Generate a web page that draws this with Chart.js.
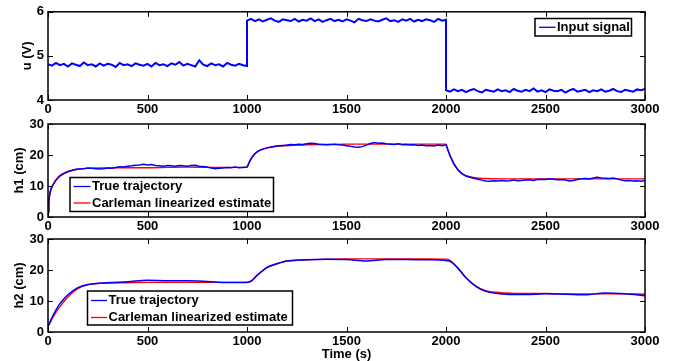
<!DOCTYPE html>
<html>
<head>
<meta charset="utf-8">
<script src="https://cdn.jsdelivr.net/npm/chart.js@4"></script>
<style>
  body { margin: 0; background: #fff; }
  #wrap { position: relative; width: 682px; height: 361px; }
  canvas { position: absolute; left: 0; top: 0; }
</style>
</head>
<body>
<div id="wrap">
  <canvas id="c1" width="682" height="361"></canvas>
  <canvas id="c2" width="682" height="361"></canvas>
  <canvas id="c3" width="682" height="361"></canvas>
</div>
<script>
'use strict';

// input signal, sampled every 20 s in three segments
const uStep = 20;
const uSeg1 = [4.81,4.78,4.84,4.79,4.82,4.76,4.83,4.80,4.77,4.85,
  4.79,4.81,4.76,4.83,4.78,4.82,4.80,4.75,4.84,4.79,
  4.81,4.77,4.83,4.80,4.78,4.82,4.76,4.84,4.79,4.81,
  4.77,4.83,4.80,4.86,4.78,4.82,4.79,4.76,4.90,4.80,
  4.77,4.83,4.79,4.81,4.76,4.84,4.80,4.78,4.82,4.79,4.77];
const uSeg2 = [5.80,5.84,5.79,5.83,5.78,5.82,5.85,5.80,5.77,5.83,
  5.81,5.79,5.84,5.78,5.82,5.80,5.85,5.79,5.83,5.77,
  5.81,5.84,5.79,5.82,5.78,5.83,5.80,5.76,5.84,5.81,
  5.79,5.83,5.80,5.78,5.82,5.85,5.79,5.81,5.77,5.83,
  5.80,5.84,5.78,5.82,5.79,5.83,5.81,5.77,5.84,5.80,5.82];
const uSeg3 = [4.22,4.19,4.24,4.20,4.23,4.18,4.22,4.25,4.20,4.17,
  4.23,4.21,4.19,4.24,4.20,4.22,4.18,4.25,4.21,4.19,
  4.23,4.20,4.26,4.19,4.22,4.18,4.24,4.21,4.20,4.23,
  4.17,4.22,4.25,4.19,4.21,4.23,4.18,4.22,4.20,4.24,
  4.19,4.21,4.25,4.20,4.18,4.23,4.21,4.19,4.24,4.22,4.25];

// estimate curves and h2 true trajectory
const estTime = [0,5,10,25,50,75,100,150,200,
  300,400,500,600,700,800,900,1000,
  1010,1025,1050,1075,1100,1150,1200,
  1300,1400,1500,1600,1700,1800,1900,2000,
  2010,2025,2050,2075,2100,2150,2200,
  2300,2400,2500,2600,2700,2800,2900,3000];
const h1Est = [1.5,5.5,7.5,10.3,12.8,14.0,14.7,15.4,15.7,
  15.8,15.9,15.9,16.0,16.1,16.0,16.0,16.0,
  17.4,19.2,21.0,21.8,22.3,22.8,23.0,
  23.3,23.4,23.5,23.5,23.5,23.5,23.5,23.5,
  21.5,19.2,16.2,14.3,13.3,12.6,12.4,
  12.3,12.3,12.3,12.3,12.3,12.3,12.3,12.3];
const h2Est = [2.0,2.4,3.0,4.8,7.3,9.4,11.3,14.0,15.2,
  15.8,15.9,16.0,16.0,16.0,16.0,16.0,16.1,
  16.2,16.7,18.3,19.6,20.8,22.0,22.9,
  23.3,23.5,23.6,23.6,23.6,23.6,23.6,23.5,
  23.4,22.9,21.4,19.5,17.6,14.8,13.3,
  12.6,12.4,12.4,12.3,12.3,12.3,12.3,12.2];
const h2True = [1.8,2.4,3.2,5.3,8.2,10.3,12.0,14.3,15.3,
  15.9,16.2,16.7,16.5,16.5,16.3,16.0,16.0,
  16.1,16.6,18.2,19.6,20.8,22.0,22.9,
  23.3,23.5,23.4,22.9,23.4,23.4,23.3,23.1,
  23.0,22.6,21.2,19.4,17.5,14.7,13.1,
  12.2,12.1,12.3,12.2,12.0,12.6,12.3,11.7];

// h1 true trajectory: 0,5,10,15 then every 20 s
const h1TrueTime = [0, 5, 10, 15];
for (let t = 20; t <= 3000; t += 20) h1TrueTime.push(t);
const h1True = [1.6,5.8,8.0,9.2,
  9.9,11.9,13.2,14.0,14.6,15.0,15.4,15.5,15.6,15.8,
  15.7,15.6,15.5,15.6,15.8,15.7,16.0,16.2,16.1,16.4,
  16.5,16.7,16.8,17.0,16.8,16.9,16.6,16.5,16.4,16.6,
  16.5,16.4,16.6,16.5,16.4,16.6,16.7,16.4,16.3,16.1,
  15.8,15.6,15.7,15.8,16.0,15.9,16.1,15.9,16.0,16.1,
  18.8,20.5,21.4,21.9,22.3,22.5,22.8,23.0,23.1,23.2,
  23.4,23.3,23.5,23.4,23.6,23.8,23.7,23.5,23.4,23.3,
  23.4,23.5,23.3,23.2,23.0,22.8,22.6,22.5,22.7,23.2,
  23.7,24.0,23.8,23.9,23.6,23.5,23.4,23.6,23.3,23.4,
  23.2,23.3,23.1,23.2,23.0,23.1,22.9,23.2,23.0,23.3,
  19.8,17.0,15.2,14.0,13.2,12.8,12.5,12.2,11.9,11.6,
  11.5,11.7,11.6,11.8,11.6,11.7,11.9,11.7,11.8,11.9,
  12.0,11.8,12.1,12.2,12.1,12.3,12.2,12.0,12.1,11.9,
  11.6,11.8,12.1,12.3,12.4,12.3,12.6,12.8,12.6,12.5,
  12.4,12.6,12.3,11.9,11.7,11.8,11.6,11.7,11.5,11.8];

const xTicks = [0, 3000, 500];
const FONT = '"Liberation Sans", Arial, sans-serif';

Chart.defaults.font.family = FONT;
Chart.defaults.font.size = 13;
Chart.defaults.font.weight = 'bold';
Chart.defaults.color = '#000';
Chart.defaults.animation = false;

function pts(xs, ys) {
  return ys.map((v, i) => ({x: xs[i], y: v}));
}
function segment(start, vals) {
  return vals.map((v, i) => ({x: start + i * uStep, y: v}));
}
const uData = segment(0, uSeg1).concat(segment(1000, uSeg2), segment(2000, uSeg3));

// black box with inward ticks on all four sides
const framePlugin = {
  id: 'frame',
  afterDatasetsDraw(chart) {
    const {ctx, chartArea: a, scales} = chart;
    ctx.save();
    ctx.strokeStyle = '#000';
    ctx.lineWidth = 1;
    ctx.beginPath();
    scales.x.ticks.forEach(t => {
      const px = Math.round(scales.x.getPixelForValue(t.value)) + 0.5;
      ctx.moveTo(px, a.bottom); ctx.lineTo(px, a.bottom - 5);
      ctx.moveTo(px, a.top); ctx.lineTo(px, a.top + 5);
    });
    scales.y.ticks.forEach(t => {
      const py = Math.round(scales.y.getPixelForValue(t.value)) + 0.5;
      ctx.moveTo(a.left, py); ctx.lineTo(a.left + 5, py);
      ctx.moveTo(a.right, py); ctx.lineTo(a.right - 5, py);
    });
    ctx.stroke();
    ctx.lineWidth = 1.5;
    ctx.strokeRect(a.left, a.top, a.right - a.left, a.bottom - a.top);
    ctx.restore();
  }
};

// matlab style legend box
const boxLegend = {
  id: 'boxLegend',
  afterDraw(chart, args, opts) {
    const ctx = chart.ctx;
    const b = opts.box;
    ctx.save();
    ctx.fillStyle = '#fff';
    ctx.fillRect(b[0], b[1], b[2], b[3]);
    ctx.strokeStyle = '#000';
    ctx.lineWidth = 1.5;
    ctx.strokeRect(b[0], b[1], b[2], b[3]);
    ctx.font = 'bold 13px ' + FONT;
    ctx.textBaseline = 'middle';
    ctx.textAlign = 'left';
    opts.rows.forEach(r => {
      ctx.strokeStyle = r.color;
      ctx.lineWidth = 1.3;
      ctx.beginPath();
      ctx.moveTo(opts.line[0], r.y);
      ctx.lineTo(opts.line[1], r.y);
      ctx.stroke();
      ctx.fillStyle = '#000';
      ctx.fillText(r.label, opts.textX, r.y);
    });
    ctx.restore();
  }
};

function makeChart(id, cfg) {
  return new Chart(document.getElementById(id), {
    type: 'line',
    data: {datasets: cfg.datasets},
    plugins: [framePlugin, boxLegend],
    options: {
      responsive: false,
      layout: {padding: {left: 0, right: 37, top: cfg.top, bottom: cfg.bottom}},
      elements: {point: {radius: 0}},
      plugins: {
        legend: {display: false},
        tooltip: {enabled: false},
        boxLegend: cfg.legend
      },
      scales: {
        x: {
          type: 'linear',
          min: xTicks[0], max: xTicks[1],
          grid: {display: false, drawTicks: false},
          border: {display: false},
          ticks: {stepSize: xTicks[2], padding: 2, maxRotation: 0, autoSkip: false,
            callback: v => String(v)},
          title: cfg.xTitle ? {display: true, text: cfg.xTitle, padding: {top: 0, bottom: 0}, font: {lineHeight: 1}} : {display: false},
          afterFit(s) { s.height = cfg.xHeight; }
        },
        y: {
          min: cfg.yRange[0], max: cfg.yRange[1],
          grid: {display: false, drawTicks: false},
          border: {display: false},
          ticks: {stepSize: cfg.yRange[2], padding: 4, callback: v => String(v)},
          title: {display: true, text: cfg.yTitle, padding: {top: cfg.yTitlePad, bottom: 0}, font: {lineHeight: 1}},
          afterFit(s) { s.width = 48; }
        }
      }
    }
  });
}

makeChart('c1', {
  top: 10.5, bottom: 243, xHeight: 18,
  yRange: [4, 6, 1], yTitle: 'u (V)', yTitlePad: 21,
  datasets: [{data: uData, borderColor: '#0000ff', borderWidth: 2, tension: 0}],
  legend: {box: [535, 18.5, 96.5, 17.5], line: [539, 555.5], textX: 557,
    rows: [{label: 'Input signal', color: '#0000ff', y: 27.3}]}
});

makeChart('c2', {
  top: 124, bottom: 126, xHeight: 18,
  yRange: [0, 30, 10], yTitle: 'h1 (cm)', yTitlePad: 12.5,
  datasets: [
    {data: pts(h1TrueTime, h1True), borderColor: '#0000ff', borderWidth: 1.5, tension: 0},
    {data: pts(estTime, h1Est), borderColor: '#ff0000', borderWidth: 1.4, cubicInterpolationMode: 'monotone'}
  ],
  legend: {box: [70, 177.5, 203.5, 34], line: [73.5, 90.5], textX: 92,
    rows: [{label: 'True trajectory', color: '#0000ff', y: 186.5},
           {label: 'Carleman linearized estimate', color: '#ff0000', y: 203}]}
});

makeChart('c3', {
  top: 239, bottom: 0, xHeight: 29, xTitle: 'Time (s)',
  yRange: [0, 30, 10], yTitle: 'h2 (cm)', yTitlePad: 12.5,
  datasets: [
    {data: pts(estTime, h2True), borderColor: '#0000ff', borderWidth: 1.5, cubicInterpolationMode: 'monotone'},
    {data: pts(estTime, h2Est), borderColor: '#ff0000', borderWidth: 1.4, cubicInterpolationMode: 'monotone'}
  ],
  legend: {box: [87.5, 291, 205, 34], line: [91, 107], textX: 108.5,
    rows: [{label: 'True trajectory', color: '#0000ff', y: 300.5},
           {label: 'Carleman linearized estimate', color: '#ff0000', y: 317.5}]}
});
</script>
</body>
</html>
